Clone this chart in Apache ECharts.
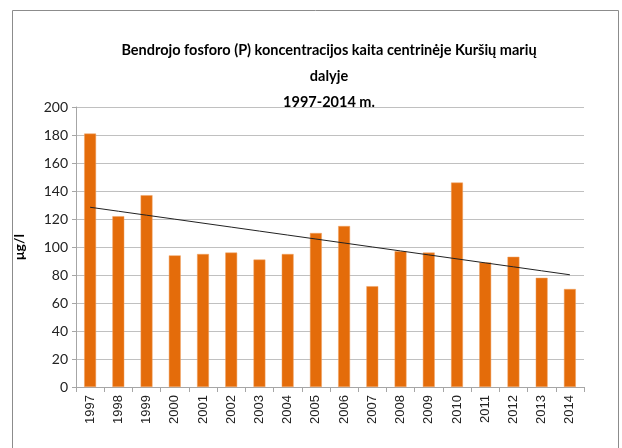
<!DOCTYPE html>
<html>
<head>
<meta charset="utf-8">
<script src="https://cdn.jsdelivr.net/npm/echarts@6/dist/echarts.min.js"></script>
<style>
html,body{margin:0;padding:0;background:#fff;}
#c{width:622px;height:448px;}
</style>
</head>
<body>
<div id="c"></div>
<script>
const titleLines = ['Bendrojo fosforo (P) koncentracijos kaita centrinėje Kuršių marių', 'dalyje', '1997-2014 m.'];
const yAxisName = 'μg/l';
const years = ['1997','1998','1999','2000','2001','2002','2003','2004','2005','2006','2007','2008','2009','2010','2011','2012','2013','2014'];
const values = [181, 122, 137, 94, 95, 96, 91, 95, 110, 115, 72, 97, 96, 146, 89, 93, 78, 70];
const yTicks = [0, 20, 40, 60, 80, 100, 120, 140, 160, 180, 200];

// linear trend (least squares)
const n = values.length;
const xs = values.map((_, i) => i + 1);
const mx = xs.reduce((a, b) => a + b, 0) / n;
const my = values.reduce((a, b) => a + b, 0) / n;
let sxy = 0, sxx = 0;
for (let i = 0; i < n; i++) { sxy += (xs[i] - mx) * (values[i] - my); sxx += (xs[i] - mx) ** 2; }
const slope = sxy / sxx;
const icpt = my - slope * mx;
const trend = xs.map(x => +(icpt + slope * x).toFixed(2));

const chart = echarts.init(document.getElementById('c'), null, {renderer: 'canvas'});
chart.setOption({
  animation: false,
  backgroundColor: '#fff',
  graphic: [{
    type: 'rect', left: 10, top: 8, shape: {x: 0, y: 0, width: 606, height: 460},
    style: {fill: 'none', stroke: '#8c8c8c', lineWidth: 1}, silent: true, z: -1
  }],
  title: {
    text: titleLines.join('\n'),
    left: 324, top: 32, textAlign: 'center',
    textStyle: {fontFamily: 'Lato', fontWeight: 'bold', fontSize: 14.5, lineHeight: 26, color: '#000'}
  },
  grid: {left: 76, right: 38, top: 107, bottom: 61, containLabel: false},
  xAxis: {
    type: 'category', data: years,
    axisLine: {lineStyle: {color: '#a6a6a6'}},
    axisTick: {show: true, alignWithLabel: false, length: 5, lineStyle: {color: '#a6a6a6'}},
    axisLabel: {rotate: 90, fontFamily: 'Liberation Sans', fontSize: 13, color: '#222', margin: 8}
  },
  yAxis: {
    type: 'value', min: yTicks[0], max: yTicks[yTicks.length - 1], interval: 20,
    name: yAxisName, nameLocation: 'middle', nameGap: 50, nameRotate: 90,
    nameTextStyle: {fontFamily: 'Lato', fontWeight: 'bold', fontSize: 14, color: '#000'},
    axisLine: {show: true, lineStyle: {color: '#a6a6a6'}},
    axisTick: {show: true, length: 4, lineStyle: {color: '#a6a6a6'}},
    splitLine: {lineStyle: {color: '#c0c0c0'}},
    axisLabel: {fontFamily: 'Lato', fontSize: 14, color: '#222', margin: 8}
  },
  series: [{
    type: 'bar', data: values, barWidth: '42%',
    itemStyle: {color: '#E46C0A', borderColor: '#F0A060', borderWidth: 0.5}
  }, {
    type: 'line', data: trend, symbol: 'none', silent: true,
    lineStyle: {color: '#222', width: 1}, z: 5
  }]
});
</script>
</body>
</html>
